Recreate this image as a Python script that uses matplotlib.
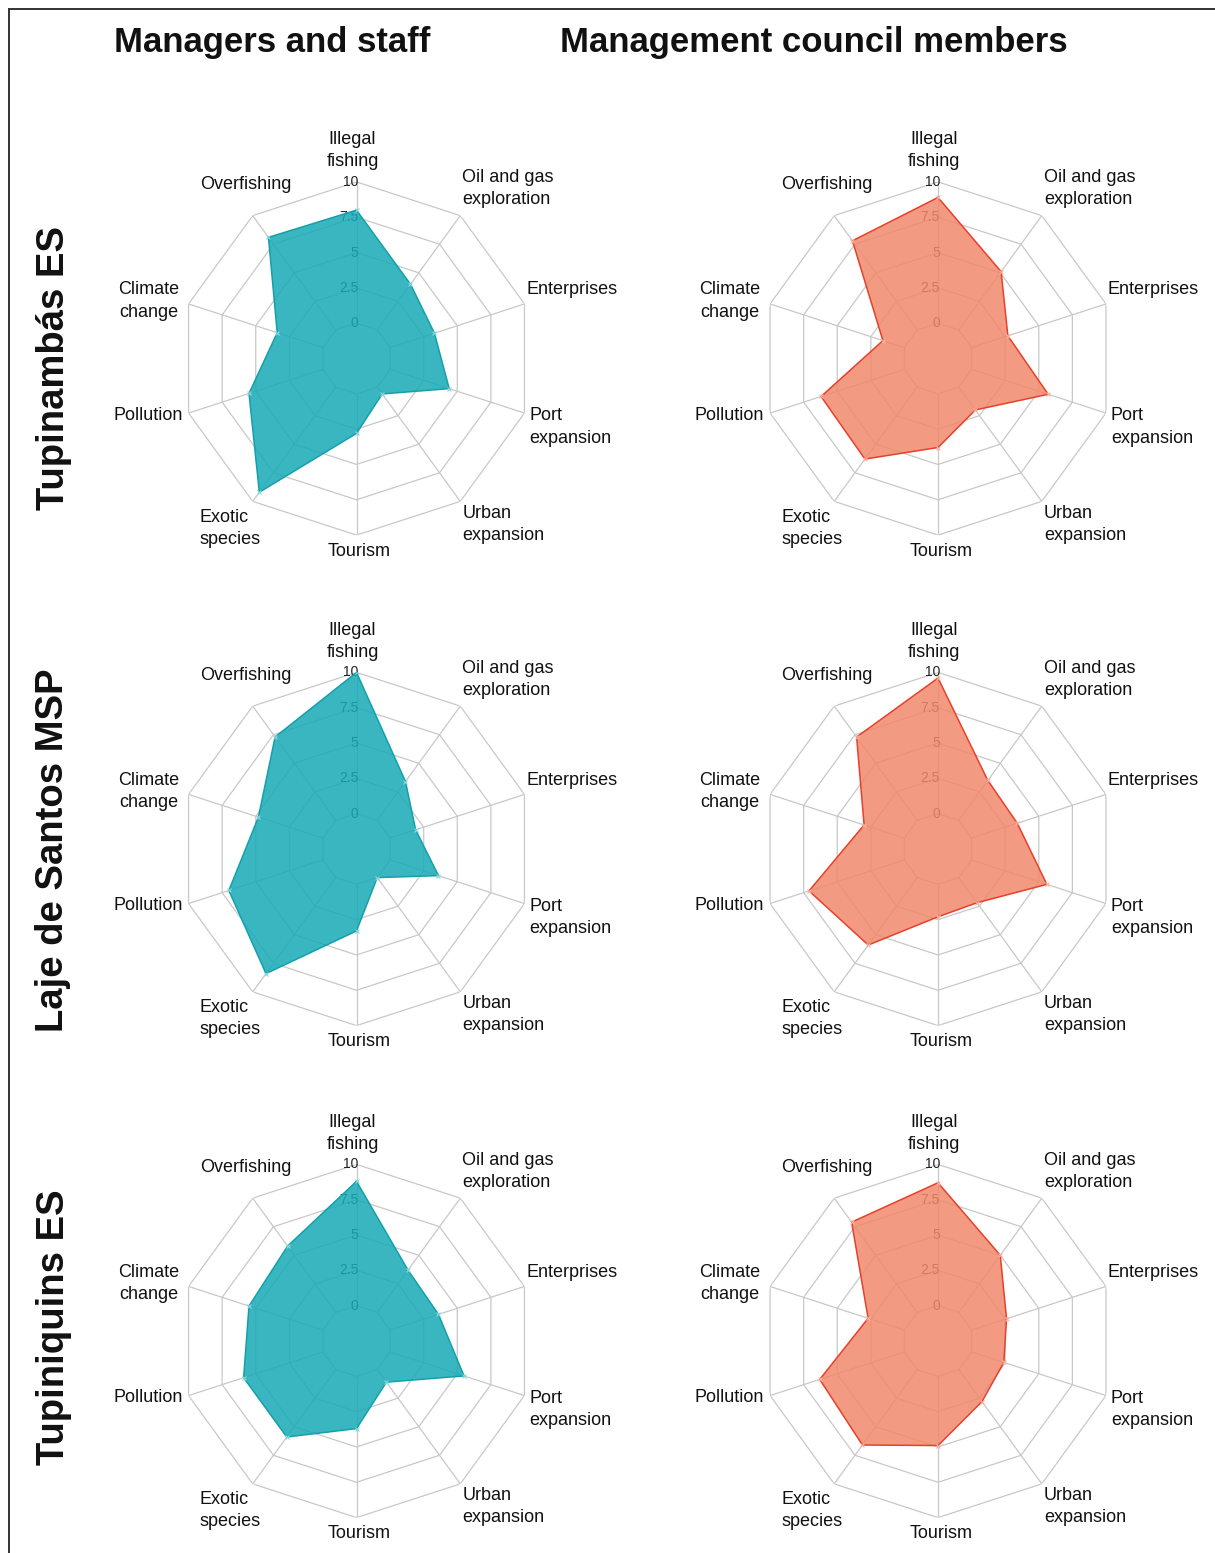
import numpy as np
import matplotlib
matplotlib.use("Agg")
import matplotlib.pyplot as plt
from matplotlib.lines import Line2D

plt.rcParams["font.family"] = ["Liberation Sans", "DejaVu Sans"]

# ---- data -------------------------------------------------------------
categories = ["Illegal\nfishing", "Oil and gas\nexploration", "Enterprises",
              "Port\nexpansion", "Urban\nexpansion", "Tourism",
              "Exotic\nspecies", "Pollution", "Climate\nchange", "Overfishing"]

column_titles = ["Managers and staff", "Management council members"]
row_titles = ["Tupinambás ES", "Laje de Santos MSP", "Tupiniquins ES"]

tupinambas_staff = [8.0, 4.0, 3.3, 4.4, 0.6, 2.8, 9.2, 5.5, 3.4, 8.1]
tupinambas_council = [8.9, 5.1, 2.7, 5.7, 2.0, 3.8, 6.3, 6.2, 1.6, 7.8]
laje_staff = [10.0, 3.4, 1.9, 3.6, 0.0, 3.3, 8.4, 7.0, 4.8, 7.3]
laje_council = [9.6, 3.5, 3.4, 5.6, 2.2, 2.3, 5.9, 7.1, 3.0, 7.3]
tupiniquins_staff = [8.8, 3.7, 3.6, 5.5, 1.1, 3.7, 5.9, 5.9, 5.5, 5.8]
tupiniquins_council = [8.7, 5.0, 2.6, 2.4, 2.8, 4.9, 6.6, 6.3, 2.7, 7.9]

radial_ticks = [0, 2.5, 5, 7.5, 10]
radial_tick_labels = ["0", "2.5", "5", "7.5", "10"]

panels = [[tupinambas_staff, tupinambas_council],
          [laje_staff, laje_council],
          [tupiniquins_staff, tupiniquins_council]]

# ---- styling ----------------------------------------------------------
W, H = 1215, 1553
fig = plt.figure(figsize=(W / 100, H / 100), dpi=100)

styles = [
    dict(fill="#17AAB7", edge="#12A1AC", marker="#8fd6dc"),
    dict(fill="#F0896C", edge="#E8402A", marker="#f7b3a3"),
]
grid_color = "#C8C8C8"

col_x = [356.5, 938.0]
row_y = [358.5, 849.0, 1341.0]
R = 176.6  # pixel radius of the outer ring

# label placement relative to each outer vertex: (dx, dy, ha)
label_offsets = [(-4, 31, "center"), (2, 27, "left"), (2, 14, "left"),
                 (5, -14, "left"), (2, -23, "left"), (3, -16, "center"),
                 (-53, -27, "left"), (-6, -2, "right"), (-40, 3, "center"),
                 (-7, 31, "center")]

n = len(categories)
theta = np.arange(n) * 2 * np.pi / n


def radar(ax, values, st):
    ax.set_theta_zero_location("N")
    ax.set_theta_direction(-1)
    ax.set_ylim(-2.5, 10)
    ax.grid(False)
    ax.spines["polar"].set_visible(False)
    ax.set_xticks([])
    ax.set_yticks([])
    ax.patch.set_alpha(0)

    closed_t = np.append(theta, theta[0])
    # decagon rings
    for r in radial_ticks:
        ax.plot(closed_t, [r] * (n + 1), color=grid_color, lw=0.9, zorder=1)
    # spokes
    for t in theta:
        ax.plot([t, t], [0, 10], color=grid_color, lw=0.9, zorder=1)
    # radial tick labels along the top spoke
    for r, lab in zip(radial_ticks, radial_tick_labels):
        ax.annotate(lab, xy=(0, r), xytext=(2, 0), textcoords="offset pixels",
                    ha="right", va="center", fontsize=10, color="#222222",
                    zorder=2)
    vals = np.append(values, values[0])
    ax.fill(closed_t, vals, color=st["fill"], alpha=0.85, lw=0, zorder=3)
    ax.plot(closed_t, vals, color=st["edge"], lw=1.1, zorder=4)
    ax.plot(theta, values, ls="none", marker="x", ms=3, mew=0.8,
            color=st["marker"], zorder=5)
    # category labels
    for t, lab, (dx, dy, ha) in zip(theta, categories, label_offsets):
        ax.annotate(lab, xy=(t, 10), xytext=(dx, dy),
                    textcoords="offset pixels", ha=ha, va="center",
                    multialignment="left" if ha == "left" else "center",
                    fontsize=13, color="#111111", annotation_clip=False,
                    linespacing=1.4)


for i, row in enumerate(panels):
    for j, values in enumerate(row):
        cx, cy = col_x[j], row_y[i]
        rect = [(cx - R) / W, 1 - (cy + R) / H, 2 * R / W, 2 * R / H]
        ax = fig.add_axes(rect, projection="polar")
        radar(ax, values, styles[j])

# column and row headings
for x, t in zip([272, 814], column_titles):
    fig.text(x / W, 1 - 52 / H, t, ha="center", va="baseline",
             fontsize=25, fontweight="bold", color="#111111")
for y, t in zip([368, 850, 1327], row_titles):
    fig.text(53.5 / W, 1 - y / H, t, rotation=90, ha="center", va="center",
             fontsize=27.5, fontweight="bold", color="#111111")

# outer frame (top and left edges)
fig.add_artist(Line2D([9 / W, 1], [1 - 9 / H, 1 - 9 / H], color="#333333",
                      lw=1.4, transform=fig.transFigure))
fig.add_artist(Line2D([9 / W, 9 / W], [0, 1 - 9 / H], color="#333333",
                      lw=1.4, transform=fig.transFigure))

fig.savefig("out.png", dpi=100, facecolor="white")
